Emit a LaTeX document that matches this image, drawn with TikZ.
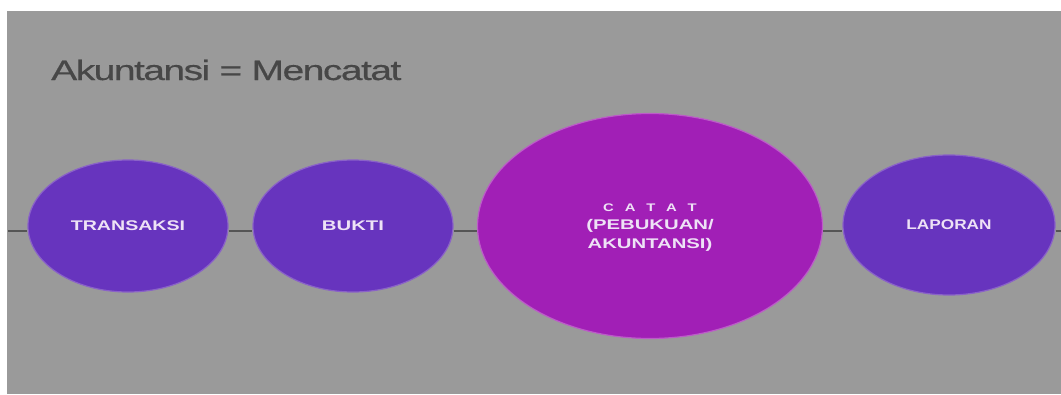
\documentclass[tikz,border=0pt]{standalone}
\usepackage{fontspec}
\setmainfont{Liberation Sans}
\newfontfamily\titlefont[FakeBold=0.4,LetterSpace=-4]{Liberation Sans}
\usepackage{graphicx}
\definecolor{bg}{HTML}{9A9A9A}
\definecolor{purp}{HTML}{6734BE}
\definecolor{purpedge}{HTML}{8A62C8}
\definecolor{mag}{HTML}{A11FB6}
\definecolor{magedge}{HTML}{BC5CC8}
\definecolor{lbl}{HTML}{EEE2F6}
\definecolor{titlegray}{HTML}{474747}
\definecolor{linegray}{HTML}{555555}
\usetikzlibrary{shapes.geometric}
\tikzset{
  ell/.style={ellipse, inner sep=0pt, line width=1.2pt, text=lbl,
    font=\bfseries\fontsize{14}{18.5}\selectfont, align=center},
  smallell/.style={ell, fill=purp, draw=purpedge},
  bigell/.style={ell, fill=mag, draw=magedge},
  conn/.style={draw=linegray, line width=1.3pt}
}
\begin{document}
\begin{tikzpicture}[x=1pt,y=-1pt]
\useasboundingbox (0,0) rectangle (1061,394);
\fill[white] (0,0) rectangle (1061,394);
\fill[bg] (7,11) rectangle (1061,394);
\node[anchor=base west, text=titlegray, font=\titlefont\fontsize{28}{30}\selectfont, inner sep=0pt] (title) at (51,80) {\scalebox{1.395}[1]{Akuntansi = Mencatat}};
\coordinate (L) at (8,231);
\coordinate (R) at (1061,231);
\node[smallell, minimum width=200pt, minimum height=132pt] (t) at (128,226) {\scalebox{1.4}[1]{TRANSAKSI}};
\node[smallell, minimum width=200pt, minimum height=132pt] (b) at (353,226) {\scalebox{1.45}[1]{BUKTI}};
\node[bigell, minimum width=345pt, minimum height=225pt] (c) at (650,226) {\raisebox{-6.5pt}{\begin{tabular}{@{}c@{}}\scalebox{1.35}[1]{\fontsize{11}{18.5}\selectfont C\hspace{8pt}A\hspace{8pt}T\hspace{8pt}A\hspace{8pt}T}\\\scalebox{1.45}[1]{(PEBUKUAN/}\\\scalebox{1.45}[1]{AKUNTANSI)}\end{tabular}}};
\node[smallell, minimum width=212pt, minimum height=140pt] (l) at (949,225) {\scalebox{1.23}[1]{LAPORAN}};
\draw[conn] (L) -- ([yshift=-5pt]t.west);
\draw[conn] ([yshift=-5pt]t.east) -- ([yshift=-5pt]b.west);
\draw[conn] ([yshift=-5pt]b.east) -- ([yshift=-5pt]c.west);
\draw[conn] ([yshift=-5pt]c.east) -- ([yshift=-6pt]l.west);
\draw[conn] ([yshift=-6pt]l.east) -- (R);
\end{tikzpicture}
\end{document}
